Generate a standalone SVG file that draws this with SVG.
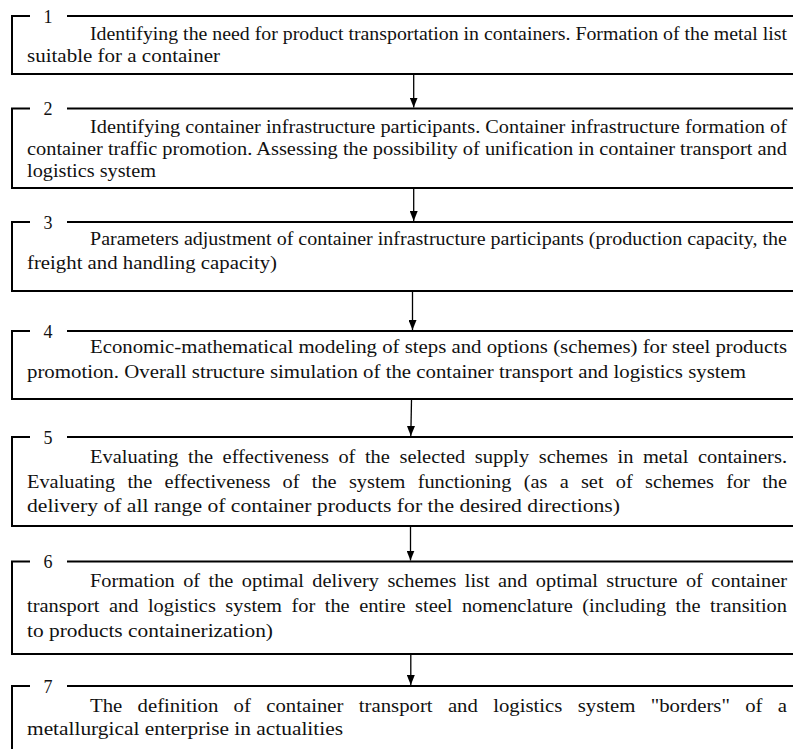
<svg xmlns="http://www.w3.org/2000/svg" width="793" height="749" viewBox="0 0 793 749">
<defs>
<style>
.box{fill:none;stroke:#000;stroke-width:2}
.num{font-family:"Liberation Serif","Times New Roman",serif;font-size:18px;fill:#111;text-anchor:middle}
.t{font-family:"Liberation Serif","Times New Roman",serif;font-size:18.5px;fill:#111}
.arr{fill:none;stroke:#000;stroke-width:1.3}
</style>
<marker id="ah" viewBox="0 0 10 8" refX="10" refY="4" markerWidth="10" markerHeight="8" markerUnits="userSpaceOnUse" orient="auto">
<path d="M0,0 L10,4 L0,8 z" fill="#000"/>
</marker>
</defs>
<rect width="793" height="749" fill="#fff"/>
<g id="connectors">
<line class="arr" x1="413.7" y1="75" x2="413.7" y2="107.5" marker-end="url(#ah)"/>
<line class="arr" x1="413.7" y1="189" x2="413.7" y2="221" marker-end="url(#ah)"/>
<line class="arr" x1="412.5" y1="292" x2="412.5" y2="330" marker-end="url(#ah)"/>
<line class="arr" x1="411.5" y1="400" x2="410.8" y2="436" marker-end="url(#ah)"/>
<line class="arr" x1="410.5" y1="527" x2="410.5" y2="560.5" marker-end="url(#ah)"/>
<line class="arr" x1="410.8" y1="655" x2="410.8" y2="685" marker-end="url(#ah)"/>
</g>
<g id="step1">
<path class="box" d="M30,16 H12 V74 H800 M67,16 H800"/>
<text class="num" x="48" y="22.5">1</text>
<text class="t" x="90" y="39.5" textLength="697" lengthAdjust="spacingAndGlyphs">Identifying the need for product transportation in containers. Formation of the metal list</text>
<text class="t" x="27" y="61.5" textLength="193" lengthAdjust="spacingAndGlyphs">suitable for a container</text>
</g>
<g id="step2">
<path class="box" d="M30,108.5 H12 V188 H800 M67,108.5 H800"/>
<text class="num" x="48" y="115">2</text>
<text class="t" x="90" y="132.5" textLength="697" lengthAdjust="spacingAndGlyphs">Identifying container infrastructure participants. Container infrastructure formation of</text>
<text class="t" x="27" y="155" textLength="760" lengthAdjust="spacingAndGlyphs">container traffic promotion. Assessing the possibility of unification in container transport and</text>
<text class="t" x="27" y="176.7" textLength="129" lengthAdjust="spacingAndGlyphs">logistics system</text>
</g>
<g id="step3">
<path class="box" d="M30,222 H12 V291 H800 M67,222 H800"/>
<text class="num" x="48" y="228.5">3</text>
<text class="t" x="90" y="245" textLength="697" lengthAdjust="spacingAndGlyphs">Parameters adjustment of container infrastructure participants (production capacity, the</text>
<text class="t" x="27" y="269" textLength="250" lengthAdjust="spacingAndGlyphs">freight and handling capacity)</text>
</g>
<g id="step4">
<path class="box" d="M30,331 H12 V399 H800 M67,331 H800"/>
<text class="num" x="48" y="337.5">4</text>
<text class="t" x="90" y="353.3" textLength="697" lengthAdjust="spacingAndGlyphs">Economic-mathematical modeling of steps and options (schemes) for steel products</text>
<text class="t" x="27" y="377.7" textLength="719" lengthAdjust="spacingAndGlyphs">promotion. Overall structure simulation of the container transport and logistics system</text>
</g>
<g id="step5">
<path class="box" d="M30,437 H12 V526 H800 M67,437 H800"/>
<text class="num" x="48" y="443.5">5</text>
<text class="t" x="90" y="463.3" textLength="697" lengthAdjust="spacingAndGlyphs" word-spacing="4">Evaluating the effectiveness of the selected supply schemes in metal containers.</text>
<text class="t" x="27" y="488.3" textLength="760" lengthAdjust="spacingAndGlyphs" word-spacing="6.5">Evaluating the effectiveness of the system functioning (as a set of schemes for the</text>
<text class="t" x="27" y="512.3" textLength="593" lengthAdjust="spacingAndGlyphs">delivery of all range of container products for the desired directions)</text>
</g>
<g id="step6">
<path class="box" d="M30,561.5 H12 V654 H800 M67,561.5 H800"/>
<text class="num" x="48" y="568">6</text>
<text class="t" x="90" y="587.3" textLength="697" lengthAdjust="spacingAndGlyphs" word-spacing="3">Formation of the optimal delivery schemes list and optimal structure of container</text>
<text class="t" x="27" y="611.7" textLength="760" lengthAdjust="spacingAndGlyphs" word-spacing="4">transport and logistics system for the entire steel nomenclature (including the transition</text>
<text class="t" x="27" y="636.7" textLength="246" lengthAdjust="spacingAndGlyphs">to products containerization)</text>
</g>
<g id="step7">
<path class="box" d="M30,686 H12 V760 M67,686 H800"/>
<text class="num" x="48" y="692.5">7</text>
<text class="t" x="90" y="711.7" textLength="697" lengthAdjust="spacingAndGlyphs" word-spacing="9">The definition of container transport and logistics system "borders" of a</text>
<text class="t" x="27" y="735" textLength="316" lengthAdjust="spacingAndGlyphs">metallurgical enterprise in actualities</text>
</g>
</svg>
